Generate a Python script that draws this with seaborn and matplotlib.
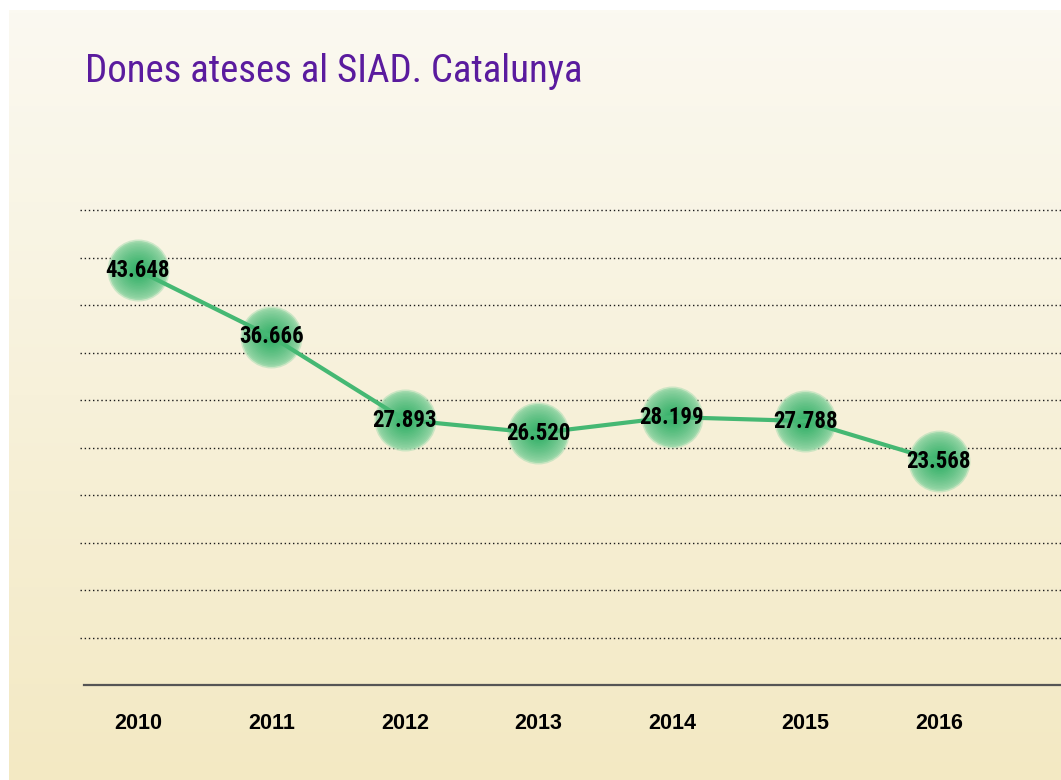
import numpy as np
import pandas as pd
import matplotlib
matplotlib.use("Agg")
import matplotlib.pyplot as plt
import seaborn as sns
from matplotlib import font_manager
from matplotlib.colors import to_rgb

# ---- data ----
years = [2010, 2011, 2012, 2013, 2014, 2015, 2016]
values = [43648, 36666, 27893, 26520, 28199, 27788, 23568]
labels = ["43.648", "36.666", "27.893", "26.520", "28.199", "27.788", "23.568"]
grid_levels = list(range(5000, 50001, 5000))
title = "Dones ateses al SIAD. Catalunya"

sns.set_style("white")
names = {f.name for f in font_manager.fontManager.ttflist}
cond = next((n for n in ["Liberation Sans Narrow", "Roboto Condensed",
                         "Open Sans Condensed", "Noto Sans Condensed"]
             if n in names), "Liberation Sans")
plt.rcParams["font.family"] = ["Liberation Sans", "DejaVu Sans"]

df = pd.DataFrame({"year": years, "value": values})

fig = plt.figure(figsize=(10.61, 7.8), dpi=100)
fig.patch.set_facecolor("white")

# background panel with vertical gradient
bg = fig.add_axes([9 / 1061, 0, 1 - 9 / 1061, 770 / 780])
top_c = np.array(to_rgb("#fbf9f1"))
bot_c = np.array(to_rgb("#f3e9c3"))
t = np.linspace(0, 1, 256)[:, None]
grad = top_c[None, :] * (1 - t) + bot_c[None, :] * t
bg.imshow(grad[:, None, :], aspect="auto", extent=[0, 1, 0, 1])
bg.set_axis_off()

ax = fig.add_axes([80 / 1061, 95 / 780, 1 - 80 / 1061, 494 / 780])
ax.set_facecolor("none")
ax.set_ylim(0, 52000)
ax.set_xlim(2009.566, 2016.914)

for g in grid_levels:
    ax.axhline(g, color="#1a1a1a", lw=1.0, linestyle=(0, (1, 2.0)), zorder=1)

for s in ["top", "left", "right"]:
    ax.spines[s].set_visible(False)
ax.spines["bottom"].set_color("#555555")
ax.spines["bottom"].set_linewidth(1.6)
ax.spines["bottom"].set_bounds(2009.596, 2016.914)

# markers with radial gradient
N = 20
outer = np.array(to_rgb("#a9ddb2"))
inner = np.array(to_rgb("#3ab26c"))
for k in range(N):
    r = 31 * (1 - k / N)
    f = min(1.0, (k / (N - 1)) ** 0.7 * 1.1)
    col = outer * (1 - f) + inner * f
    a = 0.55 if k == 0 else (0.85 if k == 1 else 1.0)
    sns.scatterplot(data=df, x="year", y="value", ax=ax, s=(2 * r * 0.72) ** 2,
                    color=col, alpha=a, linewidth=0, zorder=2 + k * 0.01, legend=False)

sns.lineplot(data=df, x="year", y="value", ax=ax, color="#45b873", lw=3.0,
             zorder=3, legend=False)

for x, y, lab in zip(years, values, labels):
    ax.text(x, y, lab, ha="center", va="center", fontsize=16.5, fontweight="bold",
            family=[cond, "DejaVu Sans"], color="black", zorder=5)

ax.set_xticks(years)
ax.set_xticklabels([str(y) for y in years], fontsize=15.5, fontweight="bold",
                   color="black")
ax.set_yticks([])
ax.tick_params(axis="x", length=0, pad=20)
ax.set_xlabel("")
ax.set_ylabel("")

fig.text(85 / 1061, 1 - 71 / 780, title, ha="left", va="center", fontsize=28,
         color="#5a1b9e", family=[cond, "DejaVu Sans"])

fig.savefig("out.png", dpi=100)
